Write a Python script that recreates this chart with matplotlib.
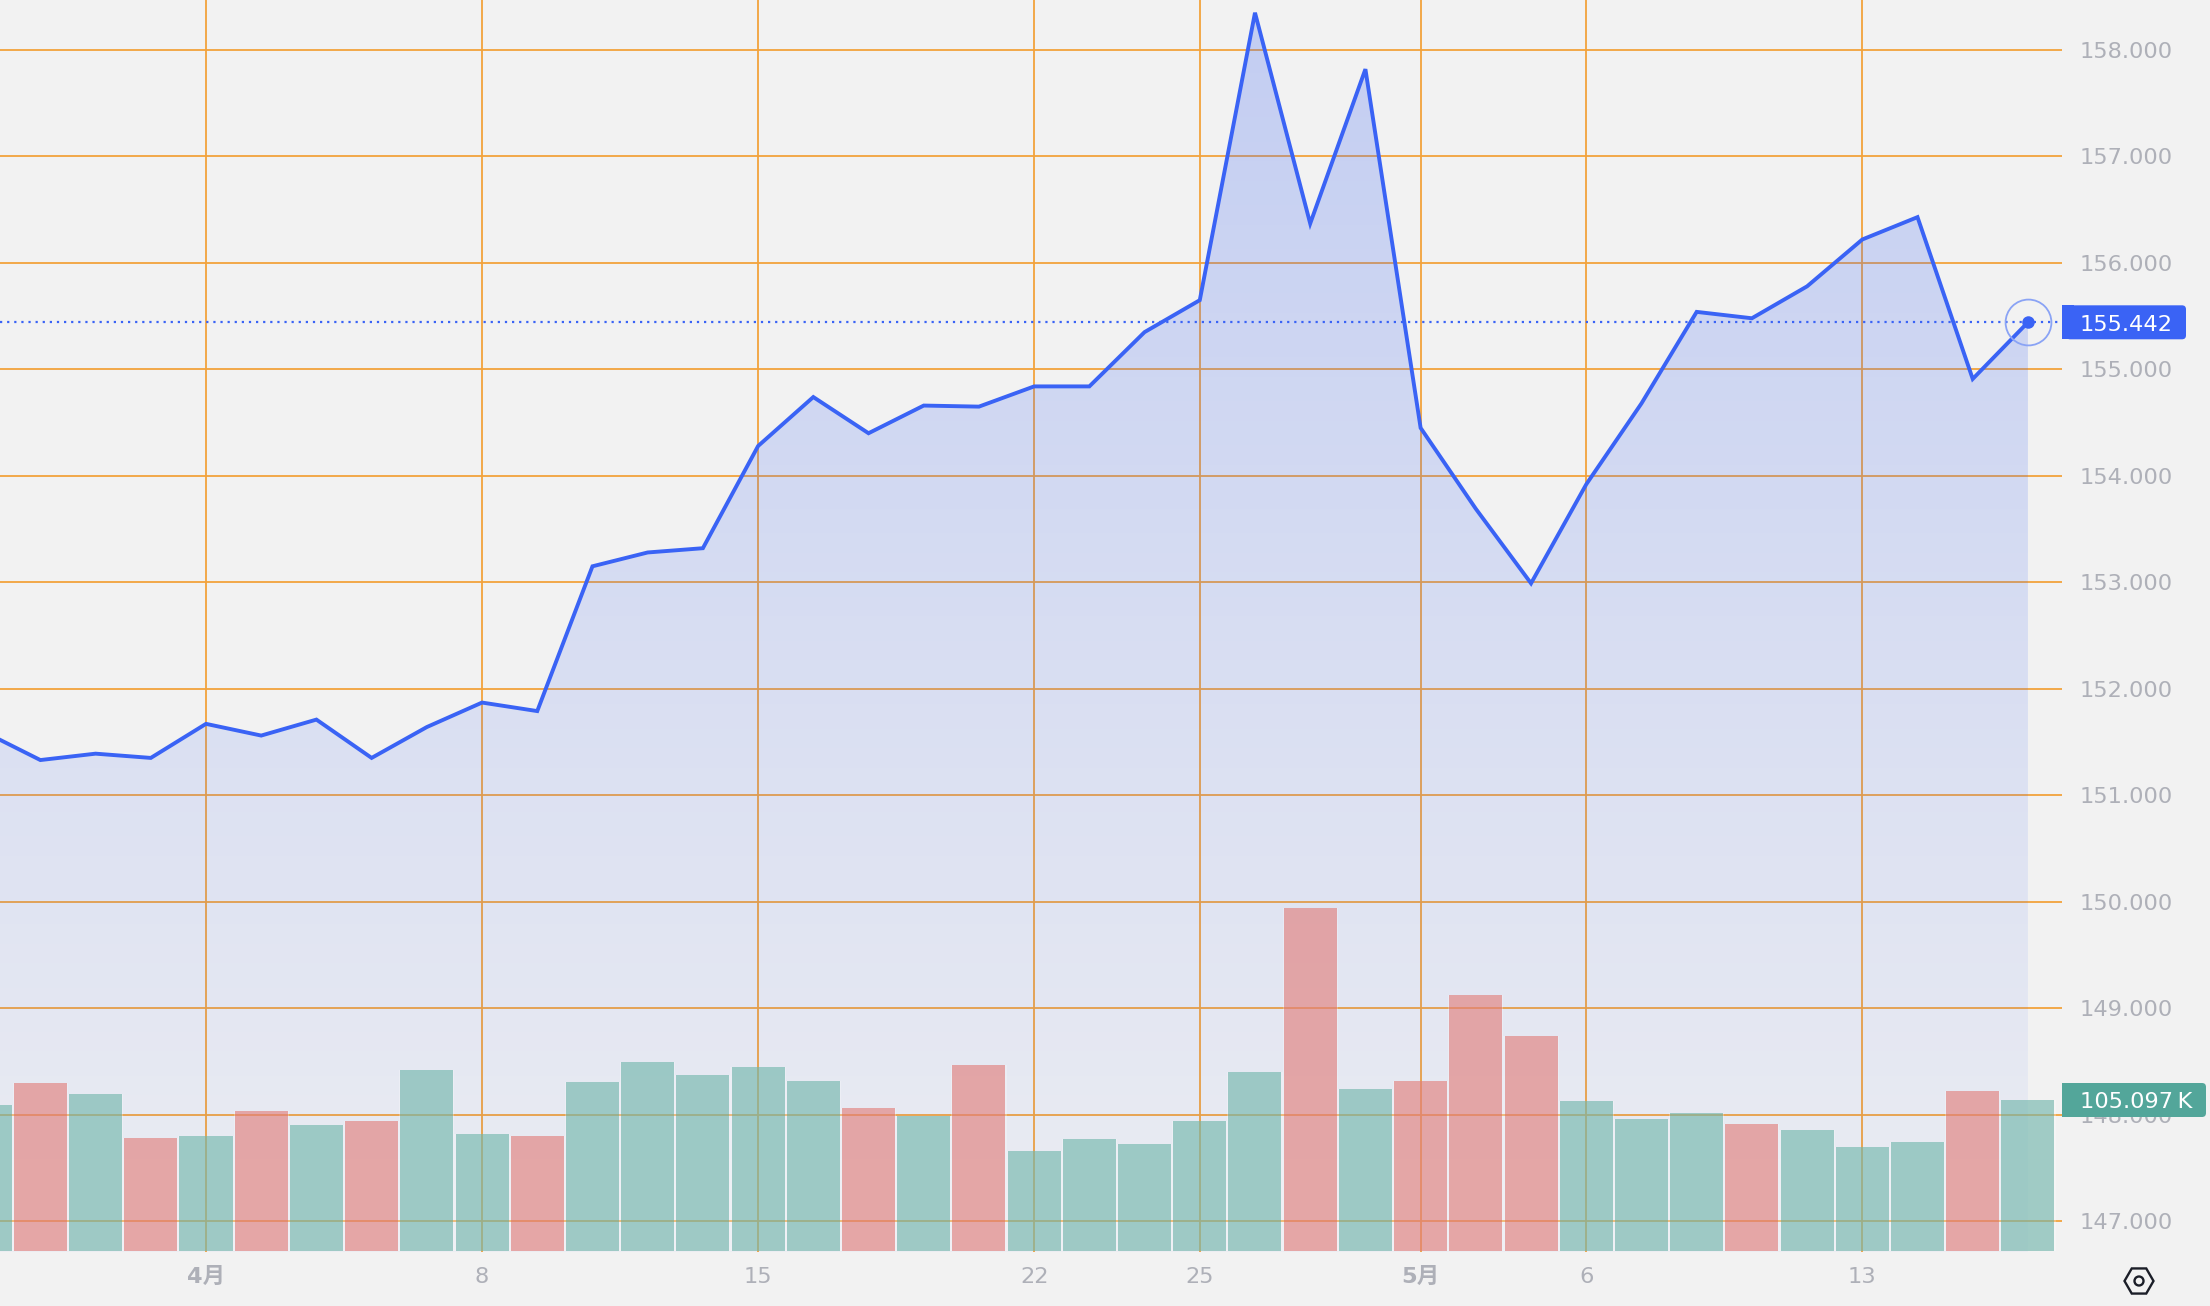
import numpy as np
import matplotlib.pyplot as plt
from matplotlib.patches import Rectangle, FancyBboxPatch, RegularPolygon, Circle
from matplotlib.transforms import IdentityTransform

# one entry per bar, first one is cut off by the left edge
prices = [151.59, 151.33, 151.39, 151.35, 151.67, 151.56, 151.71, 151.35, 151.64, 151.87,
          151.79, 153.15, 153.28, 153.32, 154.28, 154.74, 154.40, 154.66, 154.65, 154.84,
          154.84, 155.35, 155.65, 158.35, 156.37, 157.82, 154.45, 153.69, 152.99, 153.92,
          154.68, 155.54, 155.48, 155.78, 156.22, 156.43, 154.91, 155.442]
volumes = [101.6, 116.9, 109.3, 78.6, 80.0, 97.4, 87.7, 90.3, 126.2, 81.5,
           80.0, 117.8, 131.5, 122.2, 128.1, 118.3, 99.2, 93.8, 129.6, 69.3,
           78.1, 74.2, 90.3, 124.7, 238.5, 112.9, 118.3, 178.2, 149.7, 104.1,
           91.8, 95.8, 88.4, 84.5, 72.2, 76.1, 111.5, 105.097]
is_up = [0, 1, 0, 1, 0, 1, 0, 1, 0, 0,
         1, 0, 0, 0, 0, 0, 1, 0, 1, 0,
         0, 0, 0, 0, 1, 0, 1, 1, 1, 0,
         0, 0, 1, 0, 0, 0, 1, 0]
x_tick_pos = [4, 9, 14, 19, 22, 26, 29, 34]
x_tick_labels = ['4月', '8', '15', '22', '25', '5月', '6', '13']
y_ticks = [147, 148, 149, 150, 151, 152, 153, 154, 155, 156, 157, 158]

BG = '#f2f2f2'
GRID = '#f2a33c'
BLUE = '#3a63f5'
GREEN = '#53a69a'
RED = '#db625e'
TICK = '#aeb0b8'

W, H = 2210, 1306
plt.rcParams['font.family'] = ['DejaVu Sans', 'Noto Sans CJK JP']

fig = plt.figure(figsize=(W / 100, H / 100), dpi=100, facecolor=BG)
ax = fig.add_axes([0, (H - 1252) / H, 2062 / W, 1252 / H], facecolor=BG)

x = np.arange(len(prices))
# pixel layout: bar 4 centred on 206, 55.21 per bar
xmin = 4 - 206 / 55.21
xmax = xmin + 2062 / 55.21
ax.set_xlim(xmin, xmax)
ax.set_ylim(147 - 31 / 106.45, 158 + 50 / 106.45)

# volume on its own scale, same plot area (twinx resets the tick side, so it goes first)
vol = ax.twinx()
vol.set_ylim(-0.696, 1251 * 0.696)
vol.set_axis_off()
vol.patch.set_visible(False)

for s in ax.spines.values():
    s.set_visible(False)
ax.set_axisbelow(True)
ax.grid(True, color=GRID, lw=1.3, zorder=0)
ax.yaxis.tick_right()
ax.set_yticks(y_ticks)
ax.set_yticklabels(['%.3f' % v for v in y_ticks], color=TICK, fontsize=16.2)
ax.set_xticks(x_tick_pos)
ax.set_xticklabels(x_tick_labels, color=TICK, fontsize=16.2)
for lab, txt in zip(ax.get_xticklabels(), x_tick_labels):
    if '月' in txt:
        lab.set_fontweight('bold')
ax.tick_params(axis='y', length=0, pad=13)
ax.tick_params(axis='x', length=0, pad=11)

# gradient under the line
grad = np.zeros((256, 1, 4))
grad[..., :3] = plt.matplotlib.colors.to_rgb(BLUE)
grad[..., 3] = np.linspace(0.26, 0.035, 256)[:, None]
ylo, yhi = ax.get_ylim()
img = ax.imshow(grad, aspect='auto', extent=[xmin, x[-1], ylo, yhi], origin='upper', zorder=1.5)
poly = ax.fill_between(x, prices, ylo, color='none', lw=0)
img.set_clip_path(poly.get_paths()[0], ax.transData)
ax.set_xlim(xmin, xmax)
ax.set_ylim(ylo, yhi)

colors = [RED if u else GREEN for u in is_up]
vol.bar(x, volumes, width=1.0, color='white', alpha=0.25, lw=0, zorder=2)
vol.bar(x, volumes, width=0.96, color=colors, alpha=0.52, lw=0, zorder=3)

# line goes on the twin so the bars never cover it
vol_tr = ax.transData
vol.plot(x, prices, color=BLUE, lw=2.8, solid_joinstyle='miter', zorder=6, transform=vol_tr)
vol.plot([xmin, xmax], [prices[-1], prices[-1]], color=BLUE, lw=1.6, ls=(0, (1, 2.2)), zorder=5, transform=vol_tr)
vol.plot(x[-1], prices[-1], 'o', ms=9, color=BLUE, mew=0, zorder=7, transform=vol_tr)
vol.plot(x[-1], prices[-1], 'o', ms=33, mfc='none', mec='#8aa3f5', mew=1.3, zorder=7, transform=vol_tr)
vol.set_xlim(xmin, xmax)
vol.set_ylim(-0.696, 1251 * 0.696)


def badge(y_disp, right, color, text):
    # y_disp is the label centre in display pixels
    bt = IdentityTransform()
    top = y_disp - 17
    fig.add_artist(FancyBboxPatch((2066, top), right - 2066, 34, boxstyle='round,pad=0,rounding_size=4',
                                  fc=color, ec='none', transform=bt, zorder=10))
    fig.add_artist(Rectangle((2062, top), 12, 34, fc=color, ec='none', transform=bt, zorder=10))
    fig.text(2080, y_disp - 0.5, text, color='white', fontsize=16.2, va='center_baseline', ha='left',
             transform=bt, zorder=11)


price_y = ax.transData.transform((0, prices[-1]))[1]
badge(price_y, 2186, BLUE, '%.3f' % prices[-1])
badge(H - 1100, 2206, GREEN, '%.3f\u2009K' % volumes[-1])

# settings icon bottom right
it = IdentityTransform()
fig.add_artist(RegularPolygon((2139, H - 1281), 6, radius=14.5, orientation=np.pi / 2, fc='none', ec='#1b1e28',
                              lw=1.7, transform=it))
fig.add_artist(Circle((2139, H - 1281), 4.5, fc='none', ec='#1b1e28', lw=1.7, transform=it))

fig.savefig('out.png', dpi=100, facecolor=BG)
